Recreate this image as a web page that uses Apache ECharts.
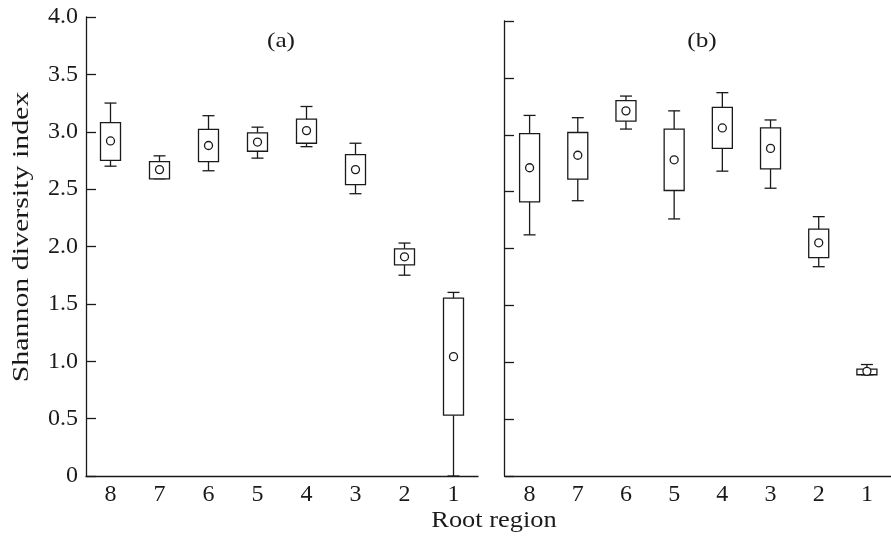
<!DOCTYPE html>
<html>
<head>
<meta charset="utf-8">
<title>Shannon diversity index by root region</title>
<script src="https://cdn.jsdelivr.net/npm/echarts@6/dist/echarts.min.js"></script>
<style>
  html, body { margin: 0; padding: 0; background: #fff; }
  #chart { width: 891px; height: 537px; }
</style>
</head>
<body>
<div id="chart"></div>
<script>
// root regions, shown from 8 down to 1
var regions = ['8', '7', '6', '5', '4', '3', '2', '1'];

// panel (a)
var aLow  = [2.70, 2.59, 2.66, 2.77, 2.87, 2.46, 1.75, 0.00];
var aQ1   = [2.75, 2.59, 2.74, 2.83, 2.90, 2.54, 1.84, 0.53];
var aMean = [2.92, 2.67, 2.88, 2.91, 3.01, 2.67, 1.91, 1.04];
var aQ3   = [3.08, 2.74, 3.02, 2.99, 3.11, 2.80, 1.98, 1.55];
var aHigh = [3.25, 2.79, 3.14, 3.04, 3.22, 2.90, 2.03, 1.60];

// panel (b)
var bLow  = [2.12, 2.42, 3.05, 2.26, 2.68, 2.53, 1.84, 0.89];
var bQ1   = [2.41, 2.61, 3.12, 2.51, 2.88, 2.70, 1.92, 0.89];
var bMean = [2.71, 2.82, 3.21, 2.78, 3.06, 2.88, 2.05, 0.92];
var bQ3   = [3.01, 3.02, 3.30, 3.05, 3.24, 3.06, 2.17, 0.94];
var bHigh = [3.17, 3.15, 3.34, 3.21, 3.37, 3.13, 2.28, 0.98];

var ink = '#1a1a1a';
var serif = 'Liberation Serif';

function rows(low, q1, mean, q3, high) {
  var out = [];
  for (var i = 0; i < regions.length; i++) {
    out.push([i, low[i], q1[i], mean[i], q3[i], high[i]]);
  }
  return out;
}

// box, whiskers, caps and mean circle
function drawBox(params, api) {
  var c = api.value(0);
  var pLow = api.coord([c, api.value(1)]);
  var pQ1 = api.coord([c, api.value(2)]);
  var pMean = api.coord([c, api.value(3)]);
  var pQ3 = api.coord([c, api.value(4)]);
  var pHigh = api.coord([c, api.value(5)]);
  var x = pMean[0];
  var bw = 20, cap = 12;
  var line = { stroke: ink, lineWidth: 1.3 };
  return {
    type: 'group',
    children: [
      { type: 'line', shape: { x1: x, y1: pHigh[1], x2: x, y2: pQ3[1] }, style: line },
      { type: 'line', shape: { x1: x, y1: pQ1[1], x2: x, y2: pLow[1] }, style: line },
      { type: 'line', shape: { x1: x - cap / 2, y1: pHigh[1], x2: x + cap / 2, y2: pHigh[1] }, style: line },
      { type: 'line', shape: { x1: x - cap / 2, y1: pLow[1], x2: x + cap / 2, y2: pLow[1] }, style: line },
      { type: 'rect', shape: { x: x - bw / 2, y: pQ3[1], width: bw, height: pQ1[1] - pQ3[1] },
        style: { fill: '#fff', stroke: ink, lineWidth: 1.3 } },
      { type: 'circle', shape: { cx: x, cy: pMean[1], r: 4 },
        style: { fill: '#fff', stroke: ink, lineWidth: 1.3 } }
    ]
  };
}

function xAxisFor(idx) {
  return {
    type: 'category',
    gridIndex: idx,
    data: regions,
    boundaryGap: true,
    axisLine: { lineStyle: { color: ink, width: 1.3 } },
    axisTick: { inside: true, alignWithLabel: true, length: 9, lineStyle: { color: ink, width: 1.3 } },
    axisLabel: { color: ink, fontFamily: serif, fontSize: 24, margin: 7 },
    splitLine: { show: false }
  };
}

function yAxisFor(idx, labels) {
  return {
    type: 'value',
    gridIndex: idx,
    min: 0,
    max: 4,
    interval: 0.5,
    offset: idx === 0 ? 0 : 1.5,
    axisLine: { show: true, lineStyle: { color: ink, width: 1.3 } },
    axisTick: { show: true, inside: true, length: 10, lineStyle: { color: ink, width: 1.3 } },
    axisLabel: {
      show: labels,
      color: ink,
      fontFamily: serif,
      fontSize: 24,
      margin: 8,
      formatter: function (v) { return v === 0 ? '0' : v.toFixed(1); }
    },
    splitLine: { show: false }
  };
}

function label(text, x, y, size, stretch, rot) {
  return {
    type: 'text',
    x: x,
    y: y,
    rotation: rot || 0,
    scaleX: stretch,
    style: {
      text: text,
      fill: ink,
      fontFamily: serif,
      fontSize: size,
      align: 'center',
      verticalAlign: 'middle'
    }
  };
}

var chart = echarts.init(document.getElementById('chart'));
chart.setOption({
  animation: false,
  backgroundColor: '#fff',
  graphic: [
    label('(a)', 281, 41, 22, 1.15),
    label('(b)', 702, 41, 22, 1.15),
    label('Root region', 494, 521, 24, 1.1),
    label('Shannon diversity index', 22, 237, 23, 1.3, Math.PI / 2)
  ],
  grid: [
    { left: 86, top: 17, width: 392, bottom: 61 },
    { left: 505.5, top: 21, width: 393.6, bottom: 61 }
  ],
  xAxis: [xAxisFor(0), xAxisFor(1)],
  yAxis: [yAxisFor(0, true), yAxisFor(1, false)],
  series: [
    { type: 'custom', xAxisIndex: 0, yAxisIndex: 0, renderItem: drawBox,
      data: rows(aLow, aQ1, aMean, aQ3, aHigh), clip: false },
    { type: 'custom', xAxisIndex: 1, yAxisIndex: 1, renderItem: drawBox,
      data: rows(bLow, bQ1, bMean, bQ3, bHigh), clip: false }
  ]
});
</script>
</body>
</html>
